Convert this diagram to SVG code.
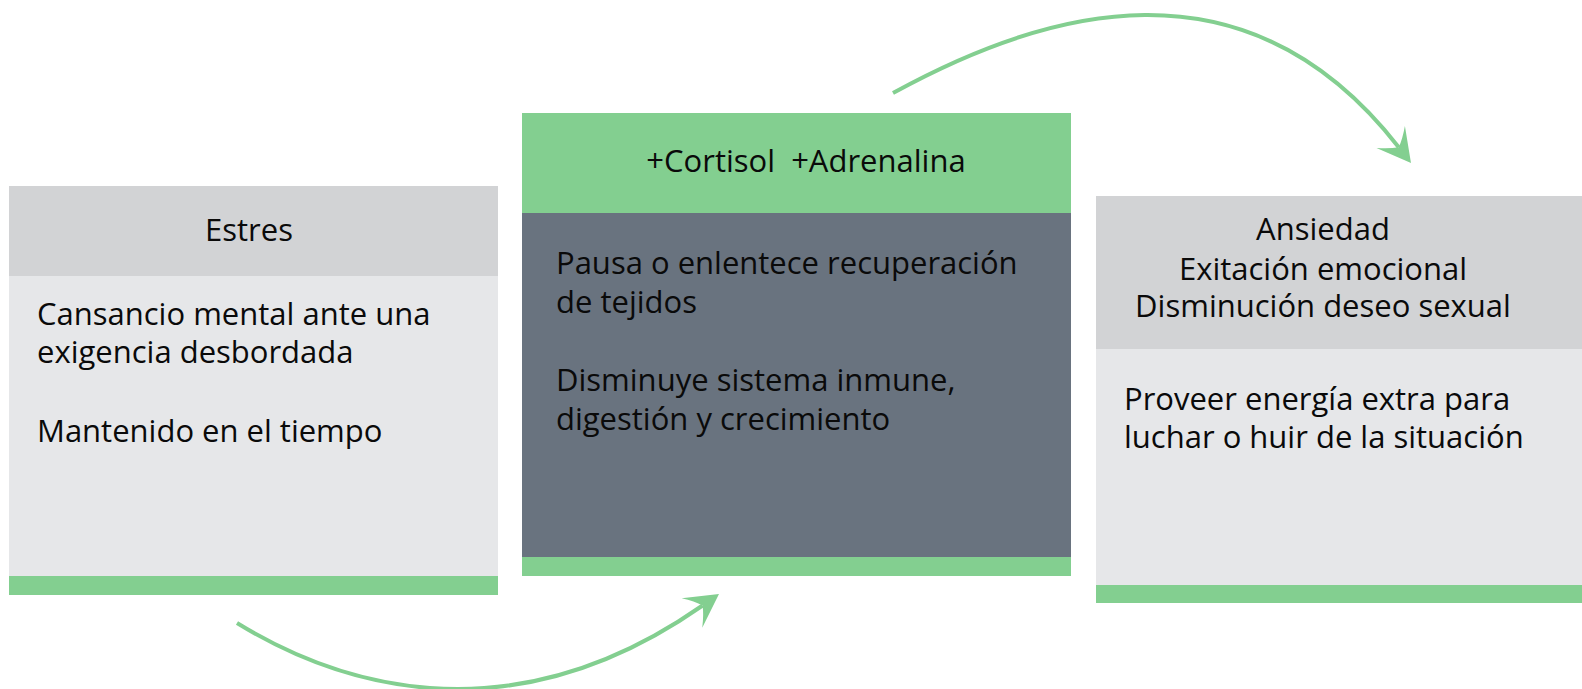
<svg xmlns="http://www.w3.org/2000/svg" width="1582" height="689" viewBox="0 0 1582 689">
<style>
text{font-family:"Open Sans","Noto Sans","DejaVu Sans",sans-serif;font-size:31px;fill:#0a0a0a}
.c{text-anchor:middle}
.g{fill:#83CF90}
.h{fill:#D2D3D5}
.l{fill:#E6E7E9}
.d{fill:#69737F}
.arr{fill:none;stroke:#83CF90;stroke-width:4}
</style>
<defs>
<marker id="ah" viewBox="-36 -22 40 44" markerWidth="40" markerHeight="44" refX="-20" refY="0" markerUnits="userSpaceOnUse" orient="auto">
<path d="M0,0 L-33,-18 Q-24,-8 -20,0 Q-24,8 -33,18 Z" fill="#83CF90"/>
</marker>
</defs>
<g id="node-estres">
<rect class="h" x="9" y="186" width="489" height="90"/>
<rect class="l" x="9" y="276" width="489" height="300"/>
<rect class="g" x="9" y="576" width="489" height="19"/>
<text class="c" x="249" y="241">Estres</text>
<text x="37" y="325">Cansancio mental ante una</text>
<text x="37" y="363">exigencia desbordada</text>
<text x="37" y="442">Mantenido en el tiempo</text>
</g>
<g id="node-hormonas">
<rect class="g" x="522" y="113" width="549" height="100"/>
<rect class="d" x="522" y="213" width="549" height="344"/>
<rect class="g" x="522" y="557" width="549" height="19"/>
<text class="c" x="806" y="172" xml:space="preserve">+Cortisol  +Adrenalina</text>
<text x="556" y="274">Pausa o enlentece recuperación</text>
<text x="556" y="313">de tejidos</text>
<text x="556" y="391">Disminuye sistema inmune,</text>
<text x="556" y="430">digestión y crecimiento</text>
</g>
<g id="node-ansiedad">
<rect class="h" x="1096" y="196" width="486" height="153"/>
<rect class="l" x="1096" y="349" width="486" height="236"/>
<rect class="g" x="1096" y="585" width="486" height="18"/>
<text class="c" x="1323" y="240">Ansiedad</text>
<text class="c" x="1323" y="280">Exitación emocional</text>
<text class="c" x="1323" y="317">Disminución deseo sexual</text>
<text x="1124" y="410">Proveer energía extra para</text>
<text x="1124" y="448">luchar o huir de la situación</text>
</g>
<g id="connectors">
<path class="arr" d="M237,623 C330,680 503,745 702.6,605.5" marker-end="url(#ah)"/>
<path class="arr" d="M893,93 C1044,10 1245,-50 1398.7,147.2" marker-end="url(#ah)"/>
</g>
</svg>
